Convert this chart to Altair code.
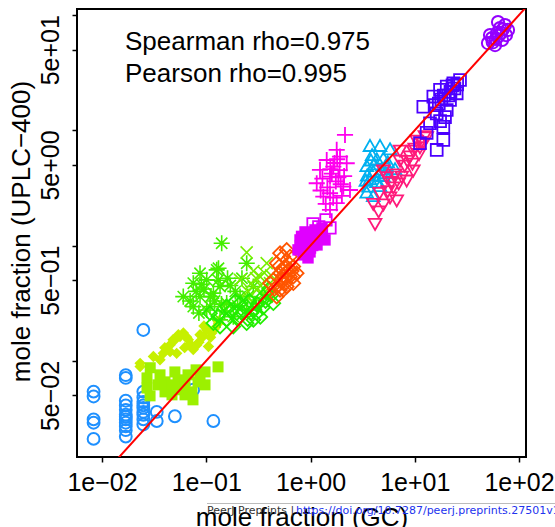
import math
import altair as alt
import pandas as pd

# ---------------- data (mole fraction GC vs UPLC-400) ----------------
blue_circ_x = [0.0083, 0.0083, 0.0083, 0.0083, 0.0083,
               0.0169, 0.0169, 0.0169, 0.0169, 0.0169, 0.0169, 0.0169, 0.0169, 0.0169, 0.0169, 0.0169, 0.0169,
               0.0249, 0.0249, 0.0249, 0.0249, 0.0249, 0.0249, 0.0249, 0.0249, 0.0249, 0.0249,
               0.0335, 0.0335, 0.050, 0.075, 0.117]
blue_circ_y = [0.054, 0.049, 0.031, 0.029, 0.021,
               0.075, 0.071, 0.045, 0.041, 0.0375, 0.034, 0.0326, 0.031, 0.029, 0.027, 0.025, 0.022,
               0.185, 0.054, 0.048, 0.044, 0.041, 0.039, 0.036, 0.034, 0.031, 0.028,
               0.036, 0.030, 0.033, 0.056, 0.030]

yg_diam_x = [0.0232, 0.0232, 0.0311, 0.0387, 0.0449, 0.0501, 0.054, 0.0603, 0.0673, 0.081, 0.0871, 0.101,
             0.113, 0.131, 0.105, 0.052, 0.036, 0.048, 0.056, 0.093, 0.13, 0.07, 0.075, 0.062, 0.045, 0.12,
             0.065, 0.085, 0.11, 0.04, 0.095]
yg_diam_y = [0.095, 0.089, 0.109, 0.116, 0.137, 0.152, 0.168, 0.174, 0.152, 0.137, 0.168, 0.185,
             0.174, 0.212, 0.133, 0.116, 0.102, 0.152, 0.162, 0.162, 0.22, 0.14, 0.125, 0.13, 0.12, 0.19,
             0.16, 0.145, 0.16, 0.13, 0.20]

lg_sq_x = [0.027, 0.027, 0.0289, 0.0344, 0.0402, 0.0402, 0.0469, 0.0469, 0.0536, 0.056, 0.0625, 0.0668,
           0.073, 0.0798, 0.0834, 0.0871, 0.0973, 0.0973, 0.0746, 0.1297, 0.036, 0.0625, 0.050, 0.029]
lg_sq_y = [0.071, 0.058, 0.0496, 0.0618, 0.0656, 0.0537, 0.0618, 0.0506, 0.0683, 0.056, 0.0618, 0.0755,
           0.0537, 0.0834, 0.0656, 0.0725, 0.080, 0.0618, 0.0458, 0.0885, 0.0755, 0.0506, 0.080, 0.087]

ast_x = [0.1406, 0.0602, 0.0871, 0.126, 0.0751, 0.101, 0.1355, 0.0871, 0.117, 0.0751, 0.1086, 0.157,
         0.2443, 0.2826, 0.211, 0.1817, 0.1355, 0.2443, 0.131, 0.101, 0.095, 0.16, 0.19, 0.12, 0.08,
         0.07, 0.11, 0.14, 0.17, 0.22, 0.09, 0.13, 0.20, 0.25, 0.085, 0.15]
ast_y = [1.047, 0.360, 0.575, 0.614, 0.471, 0.503, 0.4405, 0.360, 0.386, 0.295, 0.295, 0.316,
         0.702, 0.4405, 0.360, 0.2417, 0.2264, 0.276, 0.635, 0.276, 0.42, 0.52, 0.40, 0.33, 0.40,
         0.33, 0.36, 0.31, 0.45, 0.52, 0.46, 0.50, 0.30, 0.36, 0.26, 0.27]

x_mark_x = [0.244, 0.328, 0.211, 0.380, 0.283, 0.380, 0.305, 0.409, 0.283, 0.33, 0.25, 0.35,
            0.30, 0.42, 0.27, 0.36]
x_mark_y = [0.87, 0.537, 0.503, 0.702, 0.316, 0.360, 0.412, 0.471, 0.60, 0.45, 0.40, 0.38,
            0.52, 0.55, 0.47, 0.58]

g_diam_x = [0.1355, 0.157, 0.196, 0.244, 0.283, 0.328, 0.380, 0.1086, 0.117, 0.1817, 0.211, 0.305,
            0.440, 0.244, 0.157, 0.35, 0.27, 0.2, 0.42, 0.31,
            0.13, 0.17, 0.22, 0.26, 0.29, 0.37, 0.40, 0.33, 0.19, 0.25]
g_diam_y = [0.198, 0.2264, 0.259, 0.295, 0.2264, 0.338, 0.386, 0.259, 0.212, 0.198, 0.316, 0.259,
            0.316, 0.212, 0.295, 0.29, 0.26, 0.23, 0.37, 0.31,
            0.245, 0.27, 0.26, 0.33, 0.28, 0.33, 0.42, 0.24, 0.33, 0.23]

or_diam_x = [0.510, 0.591, 0.636, 0.474, 0.684, 0.510, 0.684, 0.440, 0.591, 0.510, 0.409, 0.684, 0.474,
             0.548, 0.636, 0.548, 0.737, 0.56, 0.60, 0.52, 0.45, 0.62, 0.58, 0.50, 0.66, 0.55, 0.53, 0.63,
             0.57, 0.49]
or_diam_y = [0.857, 0.916, 0.801, 0.702, 0.656, 0.575, 0.537, 0.503, 0.4405, 0.412, 0.471, 0.471, 0.360,
             0.801, 0.537, 0.412, 0.575, 0.65, 0.60, 0.50, 0.42, 0.70, 0.52, 0.66, 0.60, 0.55, 0.62, 0.62,
             0.47, 0.45]

mg_sq_x = [0.793, 0.829, 0.886, 0.926, 0.989, 1.034, 1.104, 1.154, 1.233, 1.289, 1.377, 0.848, 0.946,
           0.759, 0.90, 1.05, 0.95, 1.15, 0.85, 1.0, 0.80, 0.87, 0.97, 1.10, 1.2, 0.82, 1.3]
mg_sq_y = [1.118, 0.953, 1.312, 1.053, 0.880, 1.164, 1.366, 1.012, 1.211, 1.421, 1.118, 0.829, 0.781,
           0.916, 1.2, 1.0, 1.15, 1.25, 1.05, 0.95, 1.00, 0.90, 1.25, 1.10, 1.3, 1.2, 1.3]

mg_osq_x = [1.057, 1.408, 1.538, 1.20]
mg_osq_y = [1.541, 1.670, 1.421, 1.45]

plus_x = [2.142, 1.918, 1.233, 1.538, 2.224, 2.064, 1.327, 1.783, 1.538, 1.147, 1.654, 2.392, 1.538,
          1.430, 1.783, 1.6, 1.9, 1.75, 1.45, 2.0, 1.7, 1.3, 1.85, 1.65, 1.8, 1.55, 2.1, 1.4, 1.95, 1.25]
plus_y = [9.10, 5.90, 4.53, 3.96, 5.17, 3.24, 2.65, 2.33, 2.04, 3.47, 4.83, 3.03, 2.84,
          5.52, 6.75, 4.2, 4.5, 3.6, 3.2, 2.7, 5.2, 3.8, 3.9, 2.6, 5.6, 4.6, 4.0, 2.3, 3.4, 3.0]

cy_tri_x = [3.72, 4.64, 5.79, 3.46, 4.32, 3.72, 3.46, 4.64, 4.00, 6.47, 5.38, 4.99, 4.0, 4.3, 3.6, 5.0,
            4.8, 3.9, 3.5, 4.1, 4.5, 5.2, 3.8, 5.5, 3.4]
cy_tri_y = [7.21, 7.21, 6.75, 4.83, 5.52, 3.71, 2.84, 3.24, 2.65, 4.53, 4.83, 3.96, 4.3, 3.5, 3.2, 5.6,
            4.5, 6.0, 4.0, 5.0, 4.0, 4.2, 5.4, 5.2, 3.6]

pk_tri_x = [4.16, 4.00, 5.79, 6.71, 9.68, 8.37, 5.38, 7.22, 9.68, 13.02, 10.44, 7.22, 4.99, 11.22, 6.22,
            8.0, 6.5, 11.5, 9.0, 12.0, 7.5, 5.5, 10.0, 4.5, 5.0, 6.0, 7.0, 8.5, 9.5, 11.0, 12.5, 4.6]
pk_tri_y = [1.561, 2.33, 2.65, 2.49, 4.53, 3.71, 3.96, 5.52, 6.75, 8.80, 8.24, 6.75, 4.53, 7.21, 3.24,
            5.0, 4.2, 8.0, 6.0, 7.8, 4.0, 3.0, 7.0, 2.0, 2.3, 3.6, 3.5, 5.5, 5.2, 6.3, 9.0, 2.9]

vi_sq_x = [16.24, 18.79, 18.79, 12.08, 15.07, 17.47, 20.26, 23.44, 27.17, 21.78, 16.24, 14.0, 11.22,
           25.24, 20.26, 19.0, 22.0, 17.0, 24.0, 13.0, 15.5, 18.0, 21.0, 23.0, 25.5, 19.5, 17.5]
vi_sq_y = [6.75, 8.24, 10.7, 16.0, 19.6, 22.4, 23.9, 25.6, 27.3, 18.3, 14.0, 11.5, 7.71,
           20.9, 15.0, 20.0, 21.5, 17.0, 23.0, 9.5, 16.5, 18.5, 20.0, 24.5, 25.0, 13.0, 12.0]

pu_circ_x = [50.4, 55.1, 61.5, 65.7, 73.4, 78.4, 58.9, 68.7, 52.7, 62.9, 75.0, 60.0, 67.0, 70.0, 56.0, 64.0]
pu_circ_y = [57.1, 63.1, 69.8, 77.1, 81.8, 74.1, 54.9, 60.7, 67.0, 86.9, 67.0, 62.0, 70.0, 75.0, 58.0, 66.0]

x_tick_vals = [0.01, 0.1, 1, 10, 100]
x_tick_labels = ["1e\u221202", "1e\u221201", "1e+00", "1e+01", "1e+02"]
y_tick_vals = [0.05, 0.1, 0.5, 1, 5, 10, 50, 100]
y_tick_labels = ["5e\u221202", "", "5e\u221201", "", "5e+00", "", "5e+01", ""]

stats_lines = ["Spearman rho=0.975", "Pearson rho=0.995"]
x_title = "mole fraction (GC)"
y_title = "mole fraction (UPLC\u2212400)"
wm_left = "PeerJ Preprints | "
wm_url = "https://doi.org/10.7287/peerj.preprints.27501v1"

# ---------------- styling ----------------
FONT = "Liberation Sans"
W, H = 449, 448

ASTERISK = "M0,-1L0,1M-1,0L1,0M-0.7,-0.7L0.7,0.7M-0.7,0.7L0.7,-0.7"
XSHAPE = "M-0.75,-0.75L0.75,0.75M-0.75,0.75L0.75,-0.75"
PLUS = "M0,-1L0,1M-1,0L1,0"
TRI_UP = "M0,-0.95L0.9,0.62L-0.9,0.62Z"
TRI_DN = "M0,0.95L0.9,-0.62L-0.9,-0.62Z"


def label_expr(vals, labels):
    expr = "''"
    for v, lab in reversed(list(zip(vals, labels))):
        expr = f"abs(log(datum.value)/LN10 - ({math.log10(v)})) < 0.001 ? '{lab}' : ({expr})"
    return expr


x_scale = alt.Scale(type="log", domain=[10 ** -2.24, 10 ** 2.067], nice=False, zero=False)
y_scale = alt.Scale(type="log", domain=[10 ** -1.835, 10 ** 2.052], nice=False, zero=False)

x_axis = alt.Axis(values=x_tick_vals, labelExpr=label_expr(x_tick_vals, x_tick_labels),
                  grid=False, domain=False, ticks=True, tickSize=5, tickWidth=1.5, tickColor="black",
                  labelFont=FONT, labelFontSize=25, labelColor="black", labelPadding=8,
                  labelOverlap=False, labelFlush=False, labelBound=False,
                  title=x_title, titleFont=FONT, titleFontSize=26, titleFontWeight="normal",
                  titleColor="black", titleAlign="center", titleBaseline="alphabetic",
                  titleX=W / 2, titleY=68)
y_axis = alt.Axis(values=y_tick_vals, labelExpr=label_expr(y_tick_vals, y_tick_labels),
                  grid=False, domain=False, ticks=True, tickSize=5, tickWidth=1.5, tickColor="black",
                  labelFont=FONT, labelFontSize=25, labelColor="black", labelPadding=14,
                  labelAngle=270, labelAlign="center", labelBaseline="alphabetic",
                  labelOverlap=False, labelFlush=False, labelBound=False,
                  title=y_title, titleFont=FONT, titleFontSize=26, titleFontWeight="normal",
                  titleColor="black", titleAngle=270, titleAlign="center", titleBaseline="alphabetic",
                  titleX=-48, titleY=H / 2 - 2)

groups = [
    (blue_circ_x, blue_circ_y, dict(shape="circle", filled=False, color="#1E90FF", size=140, strokeWidth=2)),
    (yg_diam_x, yg_diam_y, dict(shape="diamond", filled=True, color="#C6F000", size=130)),
    (lg_sq_x, lg_sq_y, dict(shape="square", filled=True, color="#9CF000", size=121)),
    (ast_x, ast_y, dict(shape=ASTERISK, filled=False, color="#44EE00", size=260, strokeWidth=1.6)),
    (x_mark_x, x_mark_y, dict(shape=XSHAPE, filled=False, color="#77EE00", size=260, strokeWidth=1.6)),
    (g_diam_x, g_diam_y, dict(shape="diamond", filled=False, color="#22EE00", size=190, strokeWidth=1.8)),
    (or_diam_x, or_diam_y, dict(shape="diamond", filled=False, color="#FF5500", size=190, strokeWidth=1.8)),
    (mg_sq_x, mg_sq_y, dict(shape="square", filled=True, color="#E000FF", size=130)),
    (mg_osq_x, mg_osq_y, dict(shape="square", filled=False, color="#E000FF", size=130, strokeWidth=1.8)),
    (plus_x, plus_y, dict(shape=PLUS, filled=False, color="#FF00EE", size=260, strokeWidth=1.8)),
    (cy_tri_x, cy_tri_y, dict(shape=TRI_UP, filled=False, color="#00B0F0", size=200, strokeWidth=1.8)),
    (pk_tri_x, pk_tri_y, dict(shape=TRI_DN, filled=False, color="#FF1A7A", size=200, strokeWidth=1.8)),
    (vi_sq_x, vi_sq_y, dict(shape="square", filled=False, color="#4B00FF", size=140, strokeWidth=1.8)),
    (pu_circ_x, pu_circ_y, dict(shape="circle", filled=False, color="#9400FF", size=150, strokeWidth=2)),
]

layers = []
for xs, ys, st in groups:
    df = pd.DataFrame({"x": xs, "y": ys})
    layers.append(
        alt.Chart(df).mark_point(opacity=1, **st).encode(
            x=alt.X("x:Q", scale=x_scale, axis=x_axis),
            y=alt.Y("y:Q", scale=y_scale, axis=y_axis),
        )
    )

# identity line
line_df = pd.DataFrame({"x": [0.001, 1000.0], "y": [0.001, 1000.0]})
layers.append(
    alt.Chart(line_df).mark_line(color="#FF0000", strokeWidth=2, clip=True).encode(
        x=alt.X("x:Q", scale=x_scale, axis=x_axis),
        y=alt.Y("y:Q", scale=y_scale, axis=y_axis),
    )
)

# stats annotation
for i, s in enumerate(stats_lines):
    layers.append(
        alt.Chart(pd.DataFrame({"t": [s]})).mark_text(
            align="left", baseline="alphabetic", font=FONT, fontSize=26, color="black"
        ).encode(x=alt.value(48), y=alt.value(41 + 32 * i), text="t:N")
    )

# watermark
wm_df = pd.DataFrame({"a": [wm_left], "b": [wm_url]})
layers.append(
    alt.Chart(wm_df).mark_rule(color="#BBBBBB", strokeWidth=1).encode(
        x=alt.value(130), x2=alt.value(478), y=alt.value(494.5)
    )
)
layers.append(
    alt.Chart(wm_df).mark_text(align="left", baseline="alphabetic", font="DejaVu Sans",
                               fontSize=11, color="#333333").encode(
        x=alt.value(130), y=alt.value(505), text="a:N")
)
layers.append(
    alt.Chart(wm_df).mark_text(align="left", baseline="alphabetic", font="DejaVu Sans",
                               fontSize=11, color="#2233EE").encode(
        x=alt.value(219), y=alt.value(505), text="b:N")
)

chart = alt.layer(*layers).properties(
    width=W, height=H,
    autosize=alt.AutoSizeParams(type="none"),
    padding={"left": 77, "top": 9, "right": 29, "bottom": 70},
    background="white",
).configure_view(stroke="black", strokeWidth=2)

chart.save("out.html", embed_options={"renderer": "svg", "actions": False})
